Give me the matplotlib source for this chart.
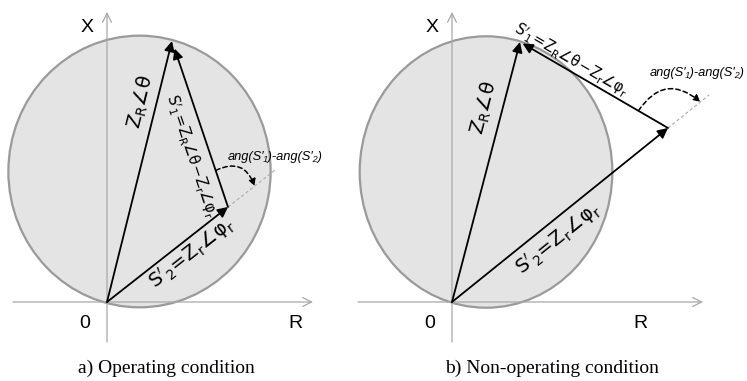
import numpy as np
import matplotlib
matplotlib.use("Agg")
import matplotlib.pyplot as plt
from matplotlib.patches import Ellipse, FancyArrowPatch

plt.rcParams["mathtext.fontset"] = "dejavusans"

# ---- data (diagram units, origin of the R-X plane at 0,0) ----
captions = ["a) Operating condition", "b) Non-operating condition"]
zr_x = [65, 68]          # Z_R vector end (R component)
zr_y = [261, 260]        # Z_R vector end (X component)
s2_x = [121, 216]        # S'2 vector end (R component)
s2_y = [95, 174]         # S'2 vector end (X component)
ext_factor = [1.40, 1.19]  # dotted extension of S'2
zr_label = r"$\mathrm{Z_R\angle\theta}$"
s1_label = r"$\mathrm{S'_1\!=\!Z_R\angle\theta\!-\!Z_r\angle\varphi_r}$"
s2_label = r"$\mathrm{S'_2\!=\!Z_r\angle\varphi_r}$"
ang_label = "ang(S\u2032\u2081)-ang(S\u2032\u2082)"

W, H = 747, 381
fig = plt.figure(figsize=(W / 100, H / 100), dpi=100)

# layout (pixels): origin position of each panel
origins = [(107, 302), (452, 302)]
panel_px = [(0, 373), (373, 747)]
xaxis_px = [(13, 313), (358, 703)]
yaxis_px = (342, 12)
ellipse_scale = [(0.975, 1.01), (0.94, 1.01)]

s2_lab = [(0.63, -14), (0.44, -17)]
s1_lab = [(0.66, -19), (0.31, 10)]
zr_lab = [(0.75, 16), (0.73, 18)]
ang_pos = [(168, 145), (245, 229)]
arc_start_t = [0.22, 0.20]
arc_end_f = [1.22, 1.15]
s1_fs = [10.5, 10.5]

gray = "#9a9a9a"

for i in range(2):
    ox, oy = origins[i]
    x0, x1 = panel_px[i]
    ax = fig.add_axes([x0 / W, 0, (x1 - x0) / W, 1])
    ax.set_xlim(x0 - ox, x1 - ox)
    ax.set_ylim(oy - H, oy)
    ax.set_aspect("auto")
    ax.axis("off")

    ZR = np.array([zr_x[i], zr_y[i]], float)
    S2 = np.array([s2_x[i], s2_y[i]], float)
    d = np.hypot(*ZR)
    sx, sy = ellipse_scale[i]

    # mho circle (diameter Z_R)
    ax.add_patch(Ellipse(ZR / 2, d * sx, d * sy, facecolor="#e4e4e4",
                         edgecolor=gray, lw=1.6, zorder=1, clip_on=False))

    # axes
    ax.annotate("", xy=(xaxis_px[i][1] - ox, 0), xytext=(xaxis_px[i][0] - ox, 0),
                arrowprops=dict(arrowstyle="->", color="#a8a8a8", lw=0.9,
                                mutation_scale=16, shrinkA=0, shrinkB=0), zorder=2,
                annotation_clip=False)
    ax.annotate("", xy=(0, oy - yaxis_px[1]), xytext=(0, oy - yaxis_px[0]),
                arrowprops=dict(arrowstyle="->", color="#a8a8a8", lw=0.9,
                                mutation_scale=16, shrinkA=0, shrinkB=0), zorder=2,
                annotation_clip=False)
    ax.text(-20, oy - 28, "X", fontsize=14, family="Liberation Sans", ha="center", va="center")
    ax.text(-22, -21, "0", fontsize=14, family="Liberation Sans", ha="center", va="center")
    ax.text(xaxis_px[i][1] - ox - 18 - (0 if i == 0 else 45), -21, "R", fontsize=14,
            family="Liberation Sans", ha="center", va="center")

    # dotted extension of S'2
    E = S2 * ext_factor[i]
    ax.plot([S2[0], E[0]], [S2[1], E[1]], color="#b0b0b0", lw=0.9,
            ls=(0, (2.5, 2)), zorder=2)

    ap = dict(arrowstyle="-|>", color="black", lw=1.3, mutation_scale=15,
              shrinkA=0, shrinkB=0)
    ax.annotate("", xy=ZR, xytext=(0, 0), arrowprops=ap, zorder=4)
    ax.annotate("", xy=S2, xytext=(0, 0), arrowprops=ap, zorder=4)
    S1end = ZR + (S2 - ZR) / np.hypot(*(S2 - ZR)) * (8 if i == 0 else 3)
    ax.annotate("", xy=S1end, xytext=S2, arrowprops=ap, zorder=4)

    # labels along vectors
    def place(P, Q, t, n, text, fs, style="normal"):
        v = Q - P
        L = np.hypot(*v)
        u = v / L
        nrm = np.array([-u[1], u[0]])
        pos = P + v * t + nrm * n
        ang = np.degrees(np.arctan2(v[1], v[0]))
        ax.text(pos[0], pos[1], text, fontsize=fs, rotation=ang,
                rotation_mode="anchor", ha="center", va="center", style=style, zorder=5)

    place(np.zeros(2), ZR, zr_lab[i][0], zr_lab[i][1], zr_label, 14)
    place(np.zeros(2), S2, s2_lab[i][0], s2_lab[i][1], s2_label, 14)
    place(ZR, S2, s1_lab[i][0], s1_lab[i][1], s1_label, s1_fs[i])

    # dashed angle arrow
    A = S2 + (ZR - S2) * arc_start_t[i]
    B = S2 * arc_end_f[i]
    arc = FancyArrowPatch(A, B, connectionstyle="arc3,rad=-0.55", arrowstyle="-|>",
                          mutation_scale=10, color="black", lw=1.1, ls=(0, (3, 2)),
                          shrinkA=0, shrinkB=0, zorder=5)
    ax.add_patch(arc)
    ax.text(ang_pos[i][0], ang_pos[i][1], ang_label, fontsize=9.3, style="italic",
            family="Liberation Sans", ha="center", va="center", zorder=5)

    ax.text((x0 + x1) / 2 - ox + (-20 if i == 0 else -8), oy - 368, captions[i],
            fontsize=14, family="Liberation Serif", ha="center", va="center")

fig.savefig("out.png", dpi=100)
